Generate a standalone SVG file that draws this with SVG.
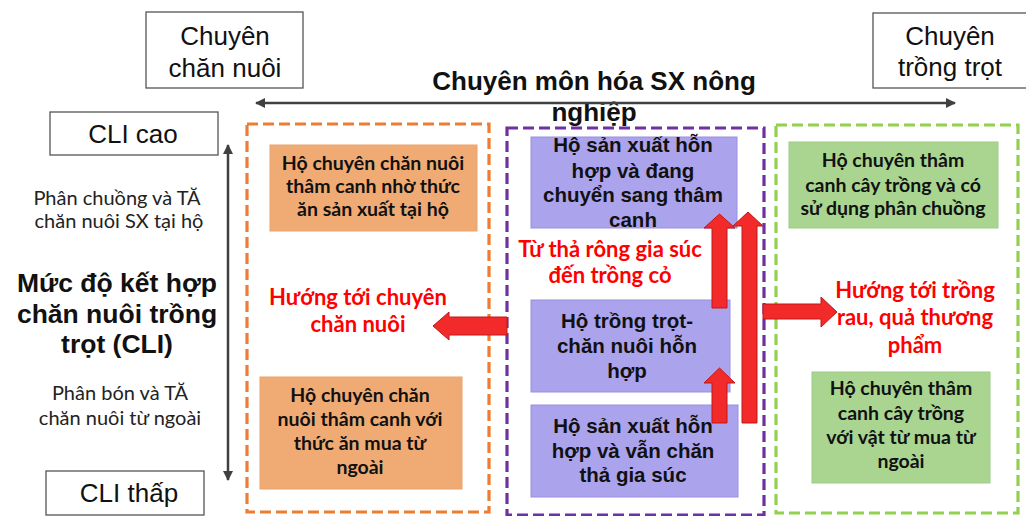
<svg xmlns="http://www.w3.org/2000/svg" width="1026" height="516" viewBox="0 0 1026 516">
<defs>
<marker id="ah" viewBox="0 0 10 10" refX="9" refY="5" markerWidth="4" markerHeight="4" orient="auto-start-reverse">
<path d="M0,0 L10,5 L0,10 z" fill="#404040"/>
</marker>
<style>
.ar{font-family:"Liberation Sans",Arial,sans-serif;fill:#111;text-anchor:middle}
.arb{font-family:"Liberation Sans",Arial,sans-serif;font-weight:bold;fill:#111;text-anchor:middle}
.cb{font-family:Lato,"Noto Sans",sans-serif;font-weight:bold;fill:#111;text-anchor:middle;font-size:19.5px}
.cr{font-family:Lato,"Noto Sans",sans-serif;fill:#222;text-anchor:middle;font-size:20px}
.red{font-family:Lato,"Noto Sans",sans-serif;font-weight:bold;fill:#FF0000;text-anchor:middle;font-size:22px}
.lbl{fill:#fff;stroke:#555;stroke-width:1.3}
.dash{fill:none;stroke-width:3.2;stroke-dasharray:11 5}
.or{fill:#F0AB74;stroke:#E9A36C;stroke-width:1}
.pu{fill:#ABA3EC;stroke:#9990DD;stroke-width:1}
.gr{fill:#A9D591;stroke:#9DCB86;stroke-width:1}
.ra{fill:#F32A2A;stroke:#C01818;stroke-width:1}
.axis{stroke:#404040;stroke-width:2.5;fill:none}
</style>
</defs>
<rect width="1026" height="516" fill="#fff"/>

<g id="groups">
<rect id="grp-orange" class="dash" x="247" y="124" width="242" height="388" stroke="#ED7D31"/>
<rect id="grp-purple" class="dash" x="507" y="128" width="257" height="387" stroke="#7030A0"/>
<rect id="grp-green" class="dash" x="776" y="125" width="242" height="388" stroke="#92D050"/>
</g>

<g id="n-chuyen-chan-nuoi">
<rect class="lbl" x="146" y="12" width="157" height="76"/>
<text class="ar" font-size="26" x="225" y="45">Chuyên</text>
<text class="ar" font-size="26" x="225" y="77">chăn nuôi</text>
</g>
<g id="n-chuyen-trong-trot">
<rect class="lbl" x="873" y="13" width="160" height="75"/>
<text class="ar" font-size="26" x="950" y="45">Chuyên</text>
<text class="ar" font-size="26" x="950" y="76">trồng trọt</text>
</g>
<g id="n-title">
<text class="arb" font-size="26" x="594" y="90">Chuyên môn hóa SX nông</text>
<text class="arb" font-size="26" x="594" y="121">nghiệp</text>
</g>
<g id="n-cli-cao">
<rect class="lbl" x="50" y="112" width="168" height="43"/>
<text class="ar" font-size="26" x="133" y="143">CLI cao</text>
</g>
<g id="n-cli-thap">
<rect class="lbl" x="46" y="471" width="158" height="44"/>
<text class="ar" font-size="26" x="129" y="502">CLI thấp</text>
</g>
<g id="n-cli-labels">
<text class="cr" x="117" y="205">Phân chuồng và TĂ</text>
<text class="cr" x="119" y="228">chăn nuôi SX tại hộ</text>
<text class="arb" font-size="26.5" x="117" y="292">Mức độ kết hợp</text>
<text class="arb" font-size="26.5" x="117" y="323">chăn nuôi trồng</text>
<text class="arb" font-size="26.5" x="117" y="353">trọt (CLI)</text>
<text class="cr" x="120" y="400">Phân bón và TĂ</text>
<text class="cr" x="120" y="425">chăn nuôi từ ngoài</text>
</g>

<g id="n-orange-1">
<rect class="or" x="270" y="145" width="207" height="86"/>
<text class="cb" x="373" y="170">Hộ chuyên chăn nuôi</text>
<text class="cb" x="373" y="193">thâm canh nhờ thức</text>
<text class="cb" x="373" y="216">ăn sản xuất tại hộ</text>
</g>
<g id="n-orange-label">
<text class="red" x="358" y="305">Hướng tới chuyên</text>
<text class="red" x="358" y="332">chăn nuôi</text>
</g>
<g id="n-orange-2">
<rect class="or" x="260" y="377" width="202" height="112"/>
<text class="cb" x="360" y="402">Hộ chuyên chăn</text>
<text class="cb" x="360" y="426">nuôi thâm canh với</text>
<text class="cb" x="360" y="450">thức ăn mua từ</text>
<text class="cb" x="360" y="474">ngoài</text>
</g>

<g id="n-purple-1">
<rect class="pu" x="531" y="137" width="206" height="91"/>
<text class="arb" font-size="20.5" x="633" y="152">Hộ sản xuất hỗn</text>
<text class="arb" font-size="20.5" x="633" y="178">hợp và đang</text>
<text class="arb" font-size="20.5" x="633" y="202">chuyển sang thâm</text>
<text class="arb" font-size="20.5" x="633" y="227">canh</text>
</g>
<g id="n-purple-label">
<text class="red" x="610" y="257">Từ thả rông gia súc</text>
<text class="red" x="610" y="283">đến trồng cỏ</text>
</g>
<g id="n-purple-2">
<rect class="pu" x="531" y="300" width="199" height="92"/>
<text class="arb" font-size="20.5" x="627" y="328">Hộ trồng trọt-</text>
<text class="arb" font-size="20.5" x="627" y="353">chăn nuôi hỗn</text>
<text class="arb" font-size="20.5" x="627" y="378">hợp</text>
</g>
<g id="n-purple-3">
<rect class="pu" x="531" y="405" width="207" height="92"/>
<text class="arb" font-size="20.5" x="633" y="433">Hộ sản xuất hỗn</text>
<text class="arb" font-size="20.5" x="633" y="458">hợp và vẫn chăn</text>
<text class="arb" font-size="20.5" x="633" y="482">thả gia súc</text>
</g>

<g id="n-green-1">
<rect class="gr" x="789" y="142" width="209" height="86"/>
<text class="cb" x="893" y="167">Hộ chuyên thâm</text>
<text class="cb" x="893" y="192">canh cây trồng và có</text>
<text class="cb" x="893" y="215">sử dụng phân chuồng</text>
</g>
<g id="n-green-label">
<text class="red" x="915" y="298">Hướng tới trồng</text>
<text class="red" x="915" y="325">rau, quả thương</text>
<text class="red" x="915" y="353">phẩm</text>
</g>
<g id="n-green-2">
<rect class="gr" x="812" y="372" width="178" height="111"/>
<text class="cb" x="901" y="395">Hộ chuyên thâm</text>
<text class="cb" x="901" y="420">canh cây trồng</text>
<text class="cb" x="901" y="444">với vật từ mua từ</text>
<text class="cb" x="901" y="468">ngoài</text>
</g>

<g id="connectors">
<line class="axis" x1="256" y1="103" x2="955" y2="103" marker-start="url(#ah)" marker-end="url(#ah)"/>
<line class="axis" x1="228" y1="145" x2="228" y2="480" marker-start="url(#ah)" marker-end="url(#ah)"/>
<path class="ra" d="M507,317 L449,317 L449,312 L433,326 L449,340 L449,335 L507,335 Z"/>
<path class="ra" d="M763,304 L821,304 L821,297 L837,312 L821,327 L821,319 L763,319 Z"/>
<path class="ra" d="M712,308 L712,228 L704,228 L719.5,214 L735,228 L727,228 L727,308 Z"/>
<path class="ra" d="M712,423 L712,383 L704,383 L719.5,368 L735,383 L727,383 L727,423 Z"/>
<path class="ra" d="M742,423 L742,226 L733,226 L748,212 L763,226 L757,226 L757,423 Z"/>
</g>
</svg>
